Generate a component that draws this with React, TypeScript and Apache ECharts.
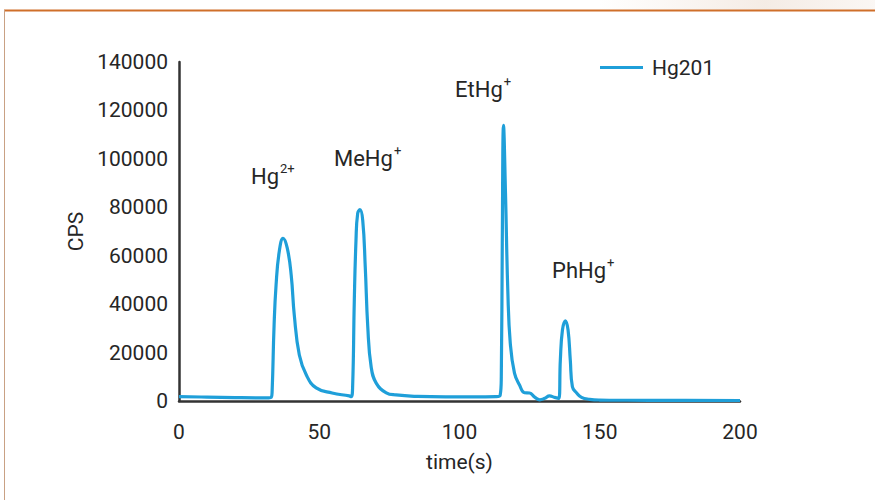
import React, { useEffect, useRef } from "react";
import * as echarts from "echarts";

const timeS = [0, 10, 20, 30, 32, 32.9, 33.2, 33.9, 34.6, 35.7, 37.1, 38.6, 40.0, 41.1, 42.9, 45.4, 48.9, 54.6, 60.7, 61.4, 61.9, 62.5, 63.1, 63.7, 64.5, 65.5, 66.4, 67.3, 68.5, 70.3, 73.9, 77.4, 85, 95, 105, 113, 114.5, 114.9, 115.25, 115.7, 116.4, 117.25, 118.1, 119.6, 121.4, 123.2, 125, 126.8, 128.6, 130.4, 132.1, 133.9, 135.4, 135.95, 136.7, 137.75, 138.7, 139.5, 140.25, 141.7, 143.5, 146.4, 150, 160, 175, 200];
const cps = [1800, 1600, 1400, 1300, 1300, 1500, 4000, 31300, 47800, 61400, 67200, 63100, 52000, 35500, 19000, 10700, 5400, 3300, 2100, 1800, 5900, 41600, 66400, 77500, 79000, 74600, 55400, 30600, 14100, 7400, 3400, 2500, 1900, 1700, 1700, 1800, 2400, 10000, 65200, 113800, 85800, 44500, 23900, 11500, 6600, 3400, 3300, 1600, 500, 1100, 2100, 1500, 1100, 16900, 29300, 33100, 29300, 16900, 5900, 3400, 1500, 700, 400, 300, 250, 200];

const xTicks = { min: 0, max: 200, interval: 50 };
const yTicks = { min: 0, max: 140000, interval: 20000 };
const seriesName = "Hg201";
const peakLabels = [
  { main: "Hg", sup: "2+" },
  { main: "MeHg", sup: "+" },
  { main: "EtHg", sup: "+" },
  { main: "PhHg", sup: "+" },
];

const FONT = "Roboto, 'Liberation Sans', sans-serif";
const TXT = "#262626";
const LINE = "#1f9fd9";

export default function App() {
  const ref = useRef<HTMLDivElement>(null);
  useEffect(() => {
    if (!ref.current) return;
    const chart = echarts.init(ref.current, undefined, { renderer: "svg" });
    const labelPos = [
      { x: 251, y: 174 },
      { x: 334, y: 156 },
      { x: 455, y: 87 },
      { x: 552, y: 268 },
    ];
    const graphics: any[] = [
      {
        type: "rect",
        shape: { x: 600, y: 0, width: 275, height: 10 },
        style: {
          fill: new echarts.graphic.LinearGradient(0, 0, 1, 0, [
            { offset: 0, color: "rgba(240,228,218,0)" },
            { offset: 0.6, color: "rgba(240,228,218,0.7)" },
            { offset: 1, color: "rgba(240,228,218,0.3)" },
          ]),
        },
        silent: true,
      },
      {
        type: "line",
        shape: { x1: 4, y1: 10.5, x2: 875, y2: 10.5 },
        style: { stroke: "#cf6f2a", lineWidth: 2 },
        silent: true,
      },
      {
        type: "line",
        shape: { x1: 4.5, y1: 10, x2: 4.5, y2: 500 },
        style: { stroke: "#c9a184", lineWidth: 1 },
        silent: true,
      },
    ];
    peakLabels.forEach((p, i) => {
      const pos = labelPos[i];
      graphics.push({
        type: "text",
        x: pos.x,
        y: pos.y,
        style: {
          text: "{m|" + p.main + "}{s|" + p.sup + "}",
          align: "left",
          verticalAlign: "middle",
          rich: {
            m: {
              fontFamily: FONT,
              fontSize: 22,
              fill: TXT,
              lineHeight: 26,
              verticalAlign: "bottom",
            },
            s: {
              fontFamily: FONT,
              fontSize: 13,
              fill: TXT,
              lineHeight: 14,
              verticalAlign: "top",
              padding: [1, 0, 0, 1],
            },
          },
        },
      });
    });

    chart.setOption({
      animation: false,
      backgroundColor: "#ffffff",
      grid: { left: 179, right: 135, top: 62, bottom: 99, containLabel: false },
      legend: {
        data: [seriesName],
        left: 595,
        top: 52,
        icon: "rect",
        itemWidth: 43,
        itemHeight: 3,
        textStyle: { fontFamily: FONT, fontSize: 21, color: TXT, padding: [0, 0, 0, 4] },
      },
      xAxis: {
        type: "value",
        ...xTicks,
        name: "time(s)",
        nameLocation: "middle",
        nameGap: 50,
        nameTextStyle: { fontFamily: FONT, fontSize: 21, color: TXT },
        axisLine: { show: true, lineStyle: { color: "#333", width: 2.5 } },
        axisTick: { show: false },
        splitLine: { show: false },
        axisLabel: { fontFamily: FONT, fontSize: 21, color: TXT, margin: 20 },
      },
      yAxis: {
        type: "value",
        ...yTicks,
        name: "CPS",
        nameLocation: "middle",
        nameGap: 86,
        nameTextStyle: { fontFamily: FONT, fontSize: 21, color: TXT },
        axisLine: { show: true, lineStyle: { color: "#333", width: 2.5 } },
        axisTick: { show: false },
        splitLine: { show: false },
        axisLabel: {
          fontFamily: FONT,
          fontSize: 21,
          color: TXT,
          margin: 11,
          formatter: (v: number) => String(v),
        },
      },
      series: [
        {
          name: seriesName,
          type: "line",
          data: timeS.map((t, i) => [t, cps[i]]),
          symbol: "none",
          smooth: 0.45,
          lineStyle: { color: LINE, width: 3.2 },
          itemStyle: { color: LINE },
        },
      ],
      graphic: graphics,
    });
    return () => chart.dispose();
  }, []);
  return (
    <div
      ref={ref}
      style={{ position: "fixed", left: 0, top: 0, width: 875, height: 500 }}
    />
  );
}
